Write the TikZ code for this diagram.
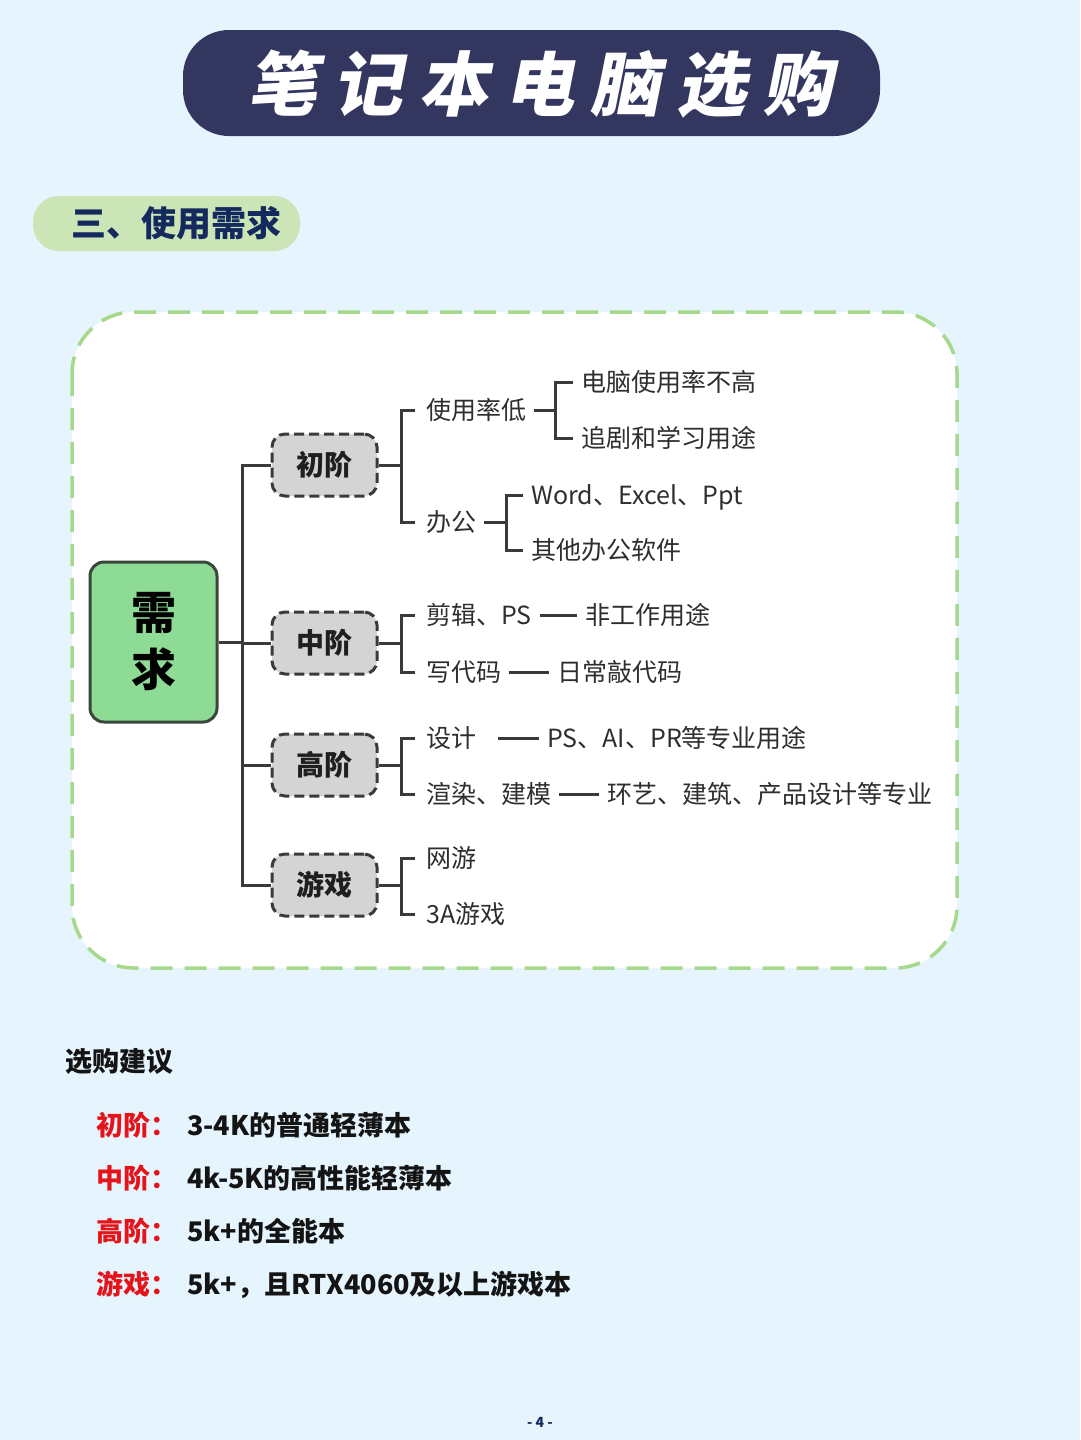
\documentclass[tikz,border=0pt]{standalone}
\usepackage{fontspec}
\setmainfont{Noto Sans CJK SC}
\newfontfamily\titlefont{Noto Sans CJK SC}[FakeSlant=0.2]
\definecolor{pagebg}{HTML}{E5F4FD}
\definecolor{titlenavy}{HTML}{33365F}
\definecolor{secgreen}{HTML}{CCE5B7}
\definecolor{secnavy}{HTML}{14295E}
\definecolor{framegreen}{HTML}{A6D98B}
\definecolor{rootgreen}{HTML}{8EDB96}
\definecolor{rootedge}{HTML}{3B463D}
\definecolor{lvlgrey}{HTML}{D4D4D4}
\definecolor{treeink}{HTML}{3A3A3A}
\definecolor{textink}{HTML}{2E2E2E}
\definecolor{tipred}{HTML}{E5141B}

\begin{document}
\begin{tikzpicture}[x=1pt, y=-1pt,
                    every node/.style={textink},
                    conn/.style={treeink, line width=3pt},
                    root/.style={draw=rootedge, fill=rootgreen, line width=3pt,
                                 rounded corners=14pt, minimum width=127pt,
                                 minimum height=160pt, align=center,
                                 font=\fontsize{45}{57}\selectfont\bfseries, text=black},
                    lvl/.style={draw=treeink, fill=lvlgrey, line width=3pt,
                                dash pattern=on 10pt off 5pt, rounded corners=13pt,
                                minimum width=105pt, minimum height=62pt,
                                font=\fontsize{28}{30}\selectfont\bfseries, text=black!88},
                    leaf/.style={anchor=west, inner xsep=8pt, inner ysep=0pt,
                                 text height=22pt, text depth=3pt,
                                 font=\fontsize{25}{27}\selectfont},
                    tip/.style={anchor=west, inner sep=0pt, text height=23pt, text depth=4pt,
                                font=\fontsize{27}{29}\selectfont\bfseries, text=black!92}]

  %% 底色與畫面範圍
  \fill[pagebg] (0,0) rectangle (1080,1440);
  \useasboundingbox (0,0) rectangle (1080,1440);

  %% 標題
  \fill[titlenavy, rounded corners=46pt] (183,30) rectangle (880,136);
  \node[white, font=\fontsize{70}{72}\selectfont\titlefont\bfseries] (title) at (540,84)
    {笔\hspace{16pt}记\hspace{16pt}本\hspace{16pt}电\hspace{16pt}脑\hspace{16pt}选\hspace{16pt}购};

  %% 小節標題
  \fill[secgreen, rounded corners=26pt] (33,196) rectangle (300,251);
  \node[secnavy, font=\fontsize{35}{37}\selectfont\bfseries] (sec) at (176,223) {三、使用需求};

  %% 虛線外框
  \draw[framegreen, fill=white, line width=3.5pt, dash pattern=on 22pt off 12pt,
        rounded corners=62pt] (72,312) rectangle (957,968);

  %% 根節點與四個分級
  \node[root] (need) at (153.5,642) {需\\求};
  \node[lvl] (chu)   at (324.5,465) {初阶};
  \node[lvl] (zhong) at (324.5,643) {中阶};
  \node[lvl] (gao)   at (324.5,765) {高阶};
  \node[lvl] (you)   at (324.5,885) {游戏};

  \foreach \k in {chu,zhong,gao,you}
    \draw[conn] (need.east) -- ++(24,0) |- (\k.west);

  %% 初阶
  \node[leaf] (dipin)  at (418,410) {使用率低};
  \node[leaf] (bangong) at (418,522) {办公};
  \node[leaf] (bugao)  at (573,382) {电脑使用率不高};
  \node[leaf] (zhuiju) at (573,438) {追剧和学习用途};
  \node[leaf] (office) at (523,495) {Word、Excel、Ppt};
  \node[leaf] (qita)   at (523,550) {其他办公软件};
  \draw[conn] (chu.east) -- ++(23,0) |- ([xshift=-3pt]dipin.west);
  \draw[conn] (chu.east) -- ++(23,0) |- ([xshift=-3pt]bangong.west);
  \draw[conn] (dipin.east) -- ++(21,0) |- (bugao.west);
  \draw[conn] (dipin.east) -- ++(21,0) |- (zhuiju.west);
  \draw[conn] (bangong.east) -- ++(22,0) |- (office.west);
  \draw[conn] (bangong.east) -- ++(22,0) |- (qita.west);

  %% 中阶
  \node[leaf] (jianji) at (418,615) {剪辑、PS};
  \node[leaf] (daima)  at (418,672) {写代码};
  \node[leaf] (feigz)  at (577,615) {非工作用途};
  \node[leaf] (richang) at (549,672) {日常敲代码};
  \draw[conn] (zhong.east) -- ++(23,0) |- ([xshift=-3pt]jianji.west);
  \draw[conn] (zhong.east) -- ++(23,0) |- ([xshift=-3pt]daima.west);
  \draw[conn] (jianji) -- (feigz);
  \draw[conn] (daima) -- (richang);

  %% 高阶
  \node[leaf] (sheji)  at (418,738) {设计};
  \node[leaf] (xuanran) at (418,794) {渲染、建模};
  \node[leaf] (zhuanye) at (539,738) {PS、AI、PR等专业用途};
  \node[leaf] (huanyi) at (599,794) {环艺、建筑、产品设计等专业};
  \draw[conn] (gao.east) -- ++(23,0) |- ([xshift=-3pt]sheji.west);
  \draw[conn] (gao.east) -- ++(23,0) |- ([xshift=-3pt]xuanran.west);
  \draw[conn] ([xshift=14pt]sheji.east) -- (zhuanye.west);
  \draw[conn] (xuanran) -- (huanyi);

  %% 游戏
  \node[leaf] (wangyou) at (418,858) {网游};
  \node[leaf] (sana)    at (418,914) {3A游戏};
  \draw[conn] (you.east) -- ++(23,0) |- ([xshift=-3pt]wangyou.west);
  \draw[conn] (you.east) -- ++(23,0) |- ([xshift=-3pt]sana.west);

  %% 選購建議
  \node[tip] (jianyi) at (65,1062) {选购建议};
  \node[tip, text=tipred] (t1) at (96,1126) {初阶：};
  \node[tip, text=tipred] (t2) at (96,1179) {中阶：};
  \node[tip, text=tipred] (t3) at (96,1232) {高阶：};
  \node[tip, text=tipred] (t4) at (96,1285) {游戏：};
  \node[tip] (a1) at (187,1126) {3-4K的普通轻薄本};
  \node[tip] (a2) at (187,1179) {4k-5K的高性能轻薄本};
  \node[tip] (a3) at (187,1232) {5k+的全能本};
  \node[tip] (a4) at (187,1285) {5k+，且RTX4060及以上游戏本};

  %% 頁碼
  \node[secnavy, font=\fontsize{14}{16}\selectfont\bfseries] (page) at (540,1422) {- 4 -};

\end{tikzpicture}
\end{document}
